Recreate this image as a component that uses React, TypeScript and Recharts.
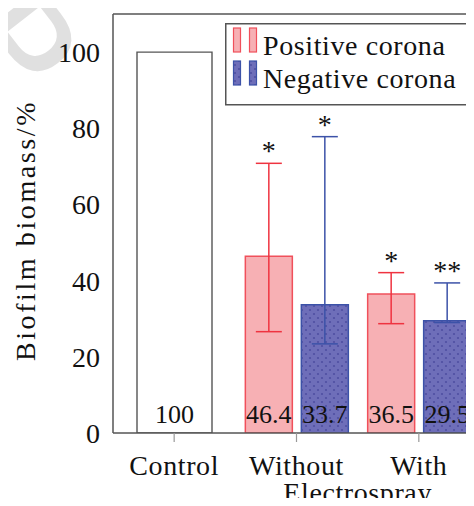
import React from 'react'
import {
  Bar,
  BarChart,
  ErrorBar,
  LabelList,
  Legend,
  XAxis,
  YAxis,
} from 'recharts'

const categories = ['Control', 'Without', 'With']
const controlValues = [100, null, null]
const positiveValues = [null, 46.4, 36.5]
const negativeValues = [null, 33.7, 29.5]
// [below, above] the mean
const positiveErrors = [null, [19.8, 24.4], [7.8, 5.6]]
const negativeErrors = [null, [10.3, 44.1], [0.5, 9.9]]
const positiveMarks = ['', '*', '*']
const negativeMarks = ['', '*', '**']
const yTicks = [0, 20, 40, 60, 80, 100]
const groupLabel = 'Electrospray'
const seriesNames = ['Positive corona', 'Negative corona']

const data = categories.map((name, i) => ({
  name,
  control: controlValues[i],
  positive: positiveValues[i],
  negative: negativeValues[i],
  positiveErr: positiveErrors[i],
  negativeErr: negativeErrors[i],
}))

const FONT = 'Liberation Serif'
const AXIS = '#555'
const TICK = '#999'
const PINK_FILL = '#f7b0b4'
const PINK_STROKE = '#f0505b'
const RED = '#ef3340'
const BLUE_STROKE = '#3c52a8'

const txt = (size: number, spacing = 0): React.CSSProperties => ({
  fontFamily: FONT,
  fontSize: size,
  letterSpacing: spacing,
  fill: '#111',
})

const seriesStyle: Record<string, { fill: string; stroke: string }> = {
  'Positive corona': { fill: PINK_FILL, stroke: PINK_STROKE },
  'Negative corona': { fill: 'url(#dots)', stroke: BLUE_STROKE },
}

const XTick = (props: any) => {
  const { x, y, payload } = props
  return (
    <g>
      <text x={x} y={y + 33} textAnchor="middle" style={txt(28, 0.6)}>
        {payload.value}
      </text>
      {payload.value === 'Without' && (
        <text x={x + (payload.offset ?? 0)} y={y + 60} textAnchor="middle" style={txt(28, 0.6)}>
          {groupLabel}
        </text>
      )}
    </g>
  )
}

const YLabel = (props: any) => {
  const { viewBox } = props
  const x = viewBox.x + 25
  const y = viewBox.y + viewBox.height / 2 + 7
  return (
    <text
      x={x}
      y={y}
      transform={`rotate(-90 ${x} ${y})`}
      textAnchor="middle"
      dominantBaseline="central"
      style={txt(28, 2.6)}
    >
      Biofilm biomass/%
    </text>
  )
}

const makeStar = (values: (number | null)[], marks: string[], errors: any[]) => (props: any) => {
  const { viewBox, value } = props
  const i = values.indexOf(value)
  if (!viewBox || i < 0 || !marks[i]) return null
  const perUnit = viewBox.height / value
  const capY = viewBox.y - errors[i][1] * perUnit
  return (
    <text x={viewBox.x + viewBox.width / 2} y={capY - 3} textAnchor="middle" style={txt(28)}>
      {marks[i]}
    </text>
  )
}

const LegendBox = (props: any) => {
  const items = seriesNames.filter((n) => (props.payload || []).some((p: any) => p.value === n))
  return (
    <svg width={260} height={83} style={{ display: 'block' }}>
      <rect x={0.75} y={0.75} width={258} height={81} fill="#fff" stroke={AXIS} strokeWidth={1.5} />
      {items.map((name, i) => {
        const s = seriesStyle[name]
        const top = 5 + i * 33
        return (
          <g key={name}>
            <rect x={8.5} y={top} width={7} height={24} fill={s.fill} stroke={s.stroke} strokeWidth={1.2} />
            <rect x={24.5} y={top} width={7} height={24} fill={s.fill} stroke={s.stroke} strokeWidth={1.2} />
            <text x={38} y={top + 27} style={txt(28, 0.6)}>
              {name}
            </text>
          </g>
        )
      })}
    </svg>
  )
}

export default function App() {
  return (
    <div
      style={{
        margin: -8,
        width: 474,
        height: 506,
        overflow: 'hidden',
        position: 'relative',
        background: '#fff',
      }}
    >
      <svg width={474} height={506} style={{ position: 'absolute', left: 0, top: 0 }}>
        <text
          x={0}
          y={0}
          transform="translate(-55 43) rotate(52)"
          style={{ fontFamily: 'DejaVu Sans', fontSize: 150, fill: '#e0e0e0' }}
        >
          P
        </text>
      </svg>
      <BarChart
        width={490}
        height={506}
        data={data}
        barGap={9}
        margin={{ top: 13, right: 10, left: 0, bottom: 0 }}
        style={{ position: 'relative' }}
      >
        <defs>
          <pattern id="dots" width={8} height={8} patternUnits="userSpaceOnUse">
            <rect width={8} height={8} fill="#6e6eb9" />
            <circle cx={2} cy={2} r={1.1} fill="#4f4fa2" />
            <circle cx={6} cy={6} r={1.1} fill="#4f4fa2" />
          </pattern>
        </defs>
        <XAxis
          xAxisId="main"
          dataKey="name"
          height={73}
          tickSize={9}
          tickMargin={0}
          tick={<XTick />}
          tickLine={{ stroke: TICK, strokeWidth: 1.2 }}
          axisLine={{ stroke: AXIS, strokeWidth: 1.5 }}
          interval={0}
        />
        <XAxis xAxisId="ctl" dataKey="name" height={0} hide />
        <XAxis
          xAxisId="top"
          dataKey="name"
          orientation="top"
          height={1}
          tick={false}
          tickSize={11}
          tickLine={{ stroke: TICK, strokeWidth: 1.2 }}
          axisLine={{ stroke: AXIS, strokeWidth: 1.5 }}
        />
        <YAxis
          domain={[0, 110]}
          ticks={yTicks}
          width={113}
          tickSize={0}
          tickMargin={13}
          tickLine={false}
          axisLine={false}
          allowDataOverflow
          tick={{ style: txt(28) }}
          label={<YLabel />}
        />
        <YAxis
          yAxisId="lm"
          domain={[0, 110]}
          ticks={yTicks}
          width={1}
          mirror
          allowDataOverflow
          tick={false}
          tickSize={11}
          tickLine={{ stroke: TICK, strokeWidth: 1.2 }}
          axisLine={{ stroke: AXIS, strokeWidth: 1.5 }}
        />
        <YAxis
          yAxisId="rm"
          orientation="right"
          domain={[0, 110]}
          ticks={yTicks}
          width={1}
          mirror
          allowDataOverflow
          tick={false}
          tickSize={11}
          tickLine={{ stroke: TICK, strokeWidth: 1.2 }}
          axisLine={{ stroke: AXIS, strokeWidth: 1.5 }}
        />
        <Legend
          layout="vertical"
          align="center"
          verticalAlign="middle"
          content={<LegendBox />}
          wrapperStyle={{ top: 23, left: 225, width: 260, height: 83 }}
        />
        <Bar
          xAxisId="ctl"
          dataKey="control"
          name="Control"
          legendType="none"
          barSize={75}
          fill="#fff"
          stroke={AXIS}
          strokeWidth={1.4}
          isAnimationActive={false}
        >
          <LabelList dataKey="control" position="insideBottom" offset={10} style={txt(26)} />
        </Bar>
        <Bar
          xAxisId="main"
          dataKey="positive"
          name="Positive corona"
          barSize={47}
          fill={PINK_FILL}
          stroke={PINK_STROKE}
          strokeWidth={1.5}
          isAnimationActive={false}
        >
          <ErrorBar dataKey="positiveErr" width={13} stroke={RED} strokeWidth={1.5} direction="y" />
          <LabelList dataKey="positive" position="insideBottom" offset={10} style={txt(26)} />
          <LabelList dataKey="positive" content={makeStar(positiveValues, positiveMarks, positiveErrors)} />
        </Bar>
        <Bar
          xAxisId="main"
          dataKey="negative"
          name="Negative corona"
          barSize={47}
          fill="url(#dots)"
          stroke={BLUE_STROKE}
          strokeWidth={1.5}
          isAnimationActive={false}
        >
          <ErrorBar dataKey="negativeErr" width={13} stroke={BLUE_STROKE} strokeWidth={1.5} direction="y" />
          <LabelList dataKey="negative" position="insideBottom" offset={10} style={txt(26)} />
          <LabelList dataKey="negative" content={makeStar(negativeValues, negativeMarks, negativeErrors)} />
        </Bar>
      </BarChart>
    </div>
  )
}
